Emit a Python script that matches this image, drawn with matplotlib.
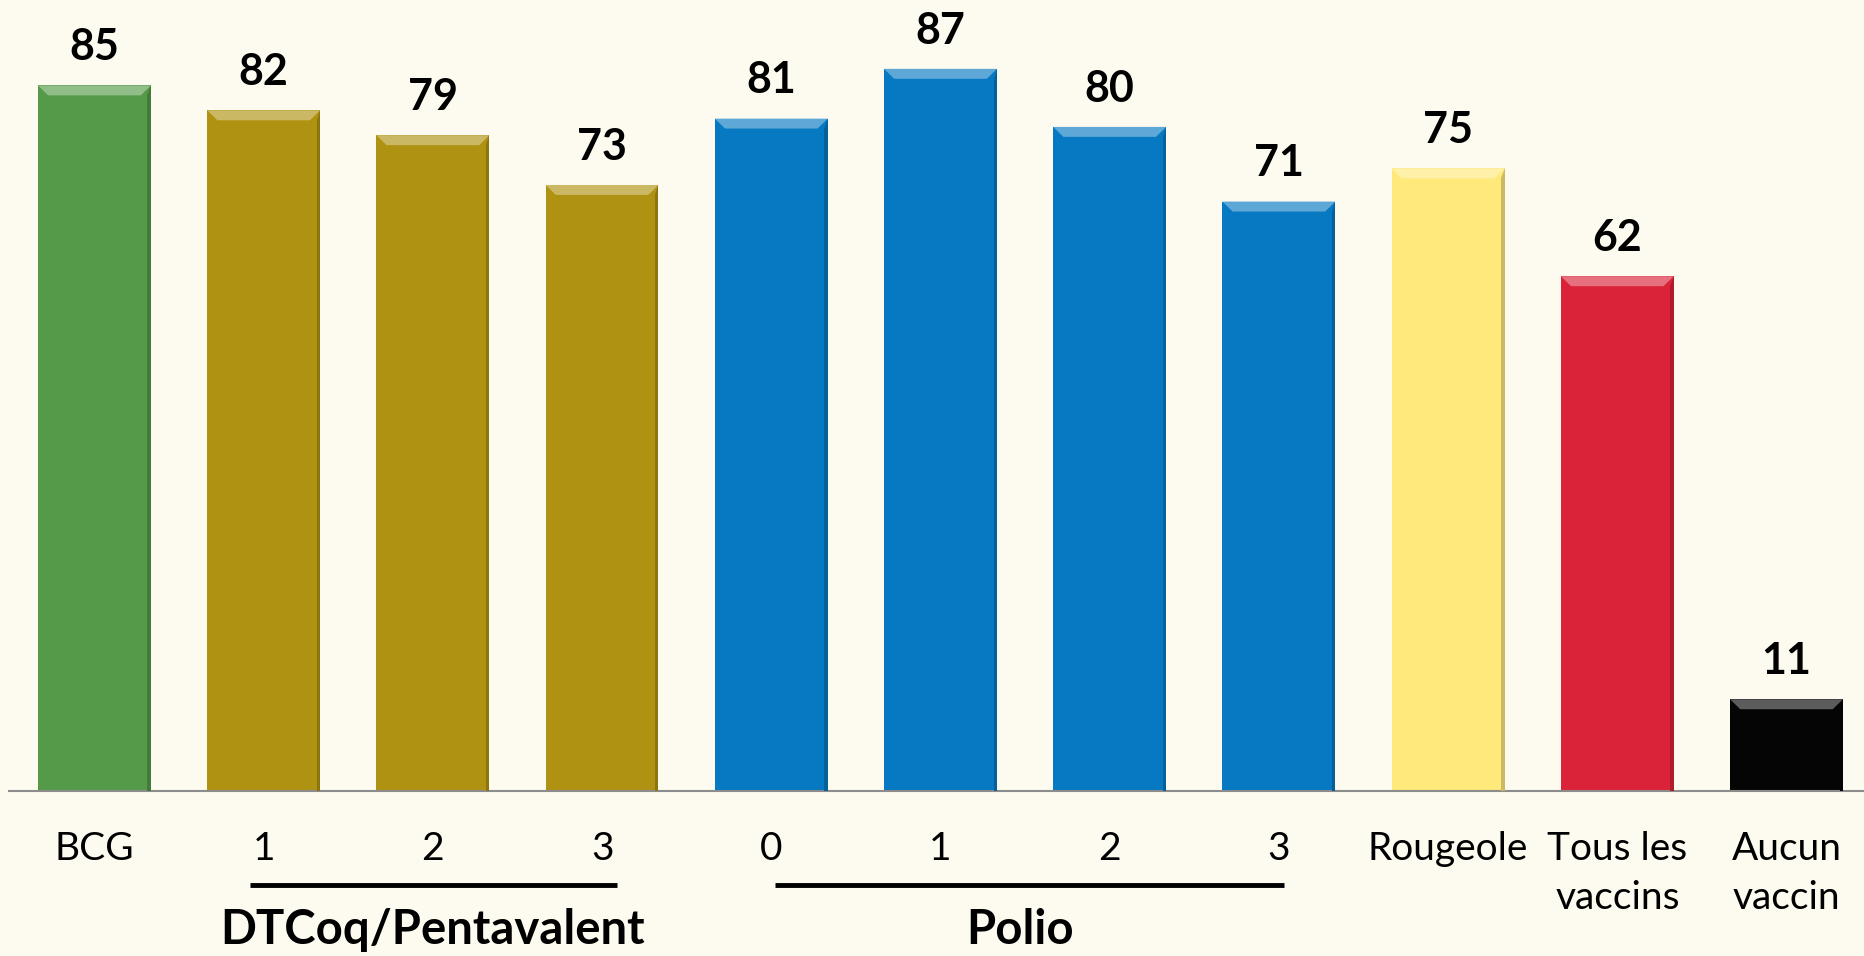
import matplotlib
matplotlib.use("Agg")
import matplotlib.pyplot as plt
from matplotlib.patches import Polygon
import matplotlib.colors as mcolors
import numpy as np

categories = ["BCG", "1", "2", "3", "0", "1", "2", "3", "Rougeole", "Tous les\nvaccins", "Aucun\nvaccin"]
values = [85, 82, 79, 73, 81, 87, 80, 71, 75, 62, 11]
colors = ["#559A48", "#AF9212", "#AF9212", "#AF9212", "#0779C2", "#0779C2", "#0779C2", "#0779C2",
          "#FFE97A", "#DA2339", "#050505"]
group_names = ["DTCoq/Pentavalent", "Polio"]
group_spans = [(0.92, 3.09), (4.02, 7.03)]
group_label_x = [2.0, 5.47]

BG = "#FDFBF0"
plt.rcParams['font.family'] = ['Lato', 'DejaVu Sans']

fig = plt.figure(figsize=(18.64, 9.56), dpi=100, facecolor=BG)
ax = fig.add_axes([9.5 / 1864, 1 - 790.5 / 956, 1 - 9.5 / 1864, 790.5 / 956])
ax.set_facecolor(BG)

x = np.arange(len(values))
width = 0.667
ax.bar(x, values, width=width, color=colors, zorder=2)
ax.set_xlim(-0.502, 10.458)
ax.set_ylim(0, 95.3)

# bevel effect on tops
bev_y = 1.2
bev_x = 0.06
for xi, v, c in zip(x, values, colors):
    rgb = np.array(mcolors.to_rgb(c))
    light = rgb + (1 - rgb) * 0.35
    dark = rgb * 0.8
    l, r = xi - width / 2, xi + width / 2
    ax.add_patch(Polygon([(l, v), (r, v), (r - bev_x, v - bev_y), (l + bev_x, v - bev_y)],
                         closed=True, facecolor=light, edgecolor='none', zorder=3))
    ax.add_patch(Polygon([(r, v), (r, 0), (r - 0.02, 0), (r - 0.02, v - bev_y)],
                         closed=True, facecolor=dark, edgecolor='none', zorder=3))
    ax.text(xi, v + 2.2, str(v), ha='center', va='bottom', fontsize=31, fontweight='bold',
            color='black', zorder=4)

for s in ['top', 'right', 'left']:
    ax.spines[s].set_visible(False)
ax.spines['bottom'].set_color('#8C8C8C')
ax.spines['bottom'].set_linewidth(1.5)
ax.set_yticks([])
ax.set_xticks(x)
ax.set_xticklabels(categories, fontsize=28, linespacing=1.45, va='top')
ax.tick_params(axis='x', length=0, pad=29)

for name, (a, b), tx in zip(group_names, group_spans, group_label_x):
    ax.plot([a, b], [-11.4, -11.4], color='black', lw=3.5, clip_on=False,
            solid_capstyle='butt')
    ax.text(tx, -16.8, name, ha='center', va='center', fontsize=34,
            fontweight='bold', clip_on=False)

fig.savefig("out.png", dpi=100, facecolor=BG)
